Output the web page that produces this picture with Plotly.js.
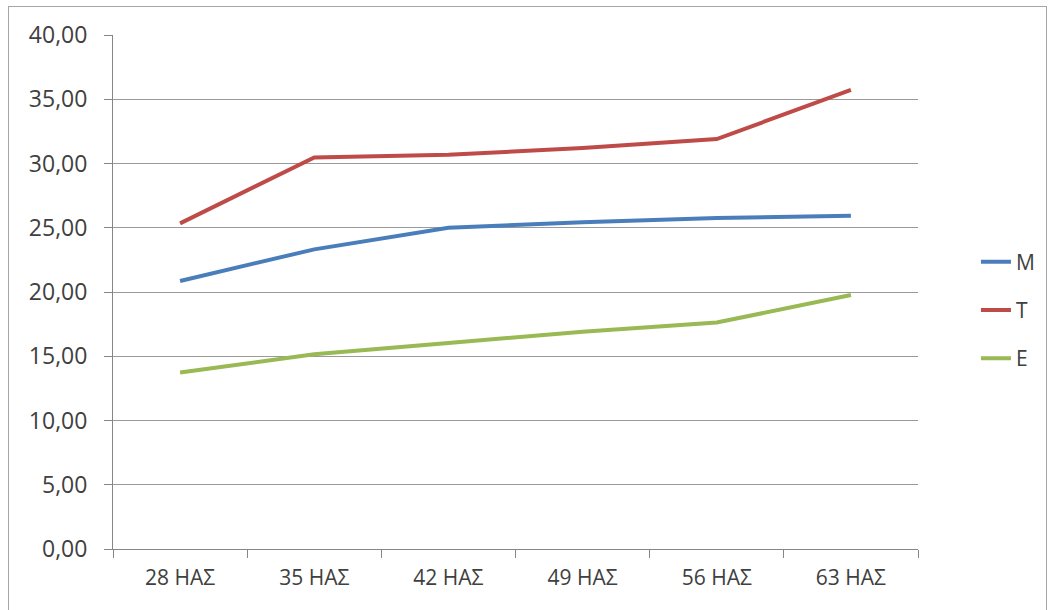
<!DOCTYPE html>
<html>
<head>
<meta charset="utf-8">
<script src="https://cdn.plot.ly/plotly-3.0.1.min.js"></script>
<style>
  html, body { margin: 0; padding: 0; background: #fff; }
  #wrap { position: relative; width: 1054px; height: 610px; overflow: hidden; }
  #chart { width: 1054px; height: 610px; }
  #frame { position: absolute; left: 8px; top: 6px; width: 1037px; height: 620px;
           border: 1px solid #a6a6a6; pointer-events: none; }
</style>
</head>
<body>
<div id="wrap">
  <div id="chart"></div>
  <div id="frame"></div>
</div>
<script>
const categories = ["28 ΗΑΣ", "35 ΗΑΣ", "42 ΗΑΣ", "49 ΗΑΣ", "56 ΗΑΣ", "63 ΗΑΣ"];
const seriesNames = ["M", "T", "E"];
const valuesM = [20.86, 23.32, 25.00, 25.42, 25.75, 25.94];
const valuesT = [25.34, 30.47, 30.68, 31.20, 31.90, 35.73];
const valuesE = [13.73, 15.16, 16.04, 16.90, 17.62, 19.77];
const yTicks = [0, 5, 10, 15, 20, 25, 30, 35, 40];

const colors = ["#4A7EBB", "#BE4B48", "#98B954"];
const allValues = [valuesM, valuesT, valuesE];

const traces = allValues.map((vals, i) => ({
  type: "scatter",
  mode: "lines",
  name: seriesNames[i],
  legendgroup: seriesNames[i],
  x: categories,
  y: vals,
  line: { color: colors[i], width: 4 },
  hoverinfo: "skip"
}));

const fontFam = "'Open Sans', 'Liberation Sans', sans-serif";

const layout = {
  width: 1054,
  height: 610,
  margin: { l: 113, r: 136, t: 35, b: 61 },
  paper_bgcolor: "#ffffff",
  plot_bgcolor: "#ffffff",
  separators: ",.",
  showlegend: true,
  legend: {
    x: 1.072, xanchor: "left",
    y: 0.465, yanchor: "middle",
    traceorder: "grouped",
    tracegroupgap: 18,
    font: { family: fontFam, size: 21, color: "#404040" },
    bgcolor: "rgba(0,0,0,0)"
  },
  xaxis: {
    type: "category",
    range: [-0.5, 5.5],
    tickson: "boundaries",
    ticks: "outside",
    ticklen: 8,
    tickcolor: "#868686",
    showline: true,
    linecolor: "#868686",
    linewidth: 1,
    showgrid: false,
    zeroline: false,
    ticklabelstandoff: 10,
    tickfont: { family: fontFam, size: 21, color: "#404040" },
    fixedrange: true
  },
  yaxis: {
    range: [0, 40],
    tickvals: yTicks,
    tickformat: ".2f",
    ticks: "outside",
    ticklen: 8,
    tickcolor: "#868686",
    showline: true,
    linecolor: "#868686",
    linewidth: 1,
    showgrid: true,
    gridcolor: "#9a9a9a",
    gridwidth: 1,
    zeroline: false,
    ticklabelstandoff: 12,
    tickfont: { family: fontFam, size: 23, color: "#404040" },
    fixedrange: true
  }
};

Plotly.newPlot("chart", traces, layout, { displayModeBar: false, staticPlot: true });
</script>
</body>
</html>
